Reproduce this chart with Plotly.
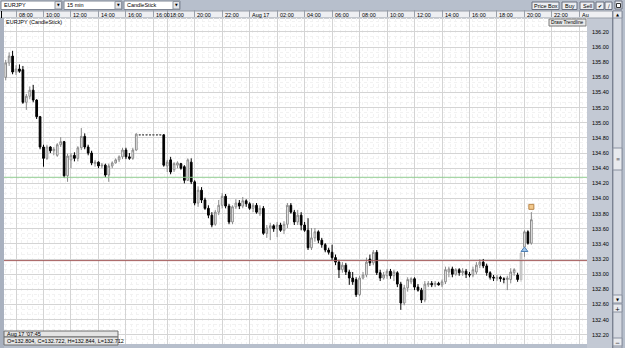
import plotly.graph_objects as go

# ---------------- data ----------------
symbol = "EURJPY"
interval = "15 min"
chart_type = "CandleStick"

bar_index = list(range(154))

open_prices = [
    135.60, 135.79, 135.88, 135.67, 135.71, 135.70, 135.27, 135.35, 135.43, 135.30,
    135.08, 134.68, 134.53, 134.68, 134.63, 134.57, 134.71, 134.75, 134.30, 134.51,
    134.57, 134.53, 134.67, 134.82, 134.68, 134.60, 134.46, 134.48, 134.43, 134.44,
    134.31, 134.43, 134.47, 134.51, 134.55, 134.64, 134.55, 134.53, 134.64, 134.84,
    134.84, 134.84, 134.84, 134.84, 134.84, 134.84, 134.84, 134.43, 134.51, 134.38,
    134.44, 134.46, 134.42, 134.24, 134.48, 134.22, 133.94, 134.11, 133.98, 133.87,
    133.78, 133.66, 133.82, 133.91, 134.03, 133.90, 133.69, 133.89, 133.94, 133.90,
    133.97, 133.93, 133.87, 133.91, 133.80, 133.87, 133.54, 133.61, 133.64, 133.60,
    133.65, 133.58, 133.66, 133.91, 133.82, 133.69, 133.78, 133.65, 133.58, 133.35,
    133.48, 133.56, 133.45, 133.39, 133.32, 133.29, 133.22, 133.16, 133.06, 133.12,
    133.03, 132.95, 132.93, 132.73, 132.95, 132.99, 133.20, 133.15, 133.29, 133.02,
    132.95, 132.98, 133.04, 132.98, 133.02, 132.87, 132.62, 132.82, 132.90, 132.94,
    132.83, 132.79, 132.66, 132.86, 132.88, 132.86, 132.88, 132.86, 132.90, 133.03,
    133.07, 133.00, 133.06, 133.02, 133.04, 133.00, 132.99, 133.03, 133.12, 133.16,
    133.11, 133.02, 132.96, 132.94, 132.96, 132.94, 132.93, 132.93, 133.02, 132.99,
    132.93, 133.36, 133.56, 133.41,
]
close_prices = [
    135.79, 135.88, 135.67, 135.71, 135.68, 135.27, 135.35, 135.43, 135.30, 135.08,
    134.68, 134.53, 134.68, 134.63, 134.65, 134.71, 134.75, 134.30, 134.56, 134.57,
    134.53, 134.67, 134.82, 134.68, 134.60, 134.47, 134.48, 134.43, 134.44, 134.31,
    134.43, 134.47, 134.51, 134.55, 134.64, 134.55, 134.53, 134.64, 134.85, 134.84,
    134.84, 134.84, 134.84, 134.84, 134.84, 134.84, 134.44, 134.48, 134.35, 134.46,
    134.47, 134.40, 134.24, 134.51, 134.22, 133.94, 134.11, 133.98, 133.87, 133.78,
    133.65, 133.82, 133.91, 134.03, 133.90, 133.69, 133.89, 133.94, 133.90, 133.97,
    133.93, 133.87, 133.91, 133.82, 133.87, 133.54, 133.61, 133.64, 133.60, 133.65,
    133.58, 133.66, 133.91, 133.82, 133.69, 133.78, 133.65, 133.58, 133.35, 133.48,
    133.56, 133.45, 133.39, 133.32, 133.29, 133.22, 133.16, 133.06, 133.12, 133.03,
    132.95, 132.90, 132.73, 132.95, 132.99, 133.16, 133.15, 133.29, 133.02, 132.95,
    132.99, 133.04, 132.98, 133.03, 132.87, 132.62, 132.82, 132.93, 132.94, 132.83,
    132.79, 132.66, 132.87, 132.88, 132.86, 132.88, 132.86, 132.90, 133.06, 133.07,
    133.00, 133.06, 133.02, 133.04, 133.00, 132.99, 133.06, 133.12, 133.16, 133.11,
    133.02, 132.96, 132.95, 132.96, 132.94, 132.93, 132.95, 133.03, 133.06, 132.93,
    133.28, 133.56, 133.41, 133.72,
]
high_prices = [
    135.83, 135.93, 135.95, 135.76, 135.77, 135.75, 135.38, 135.48, 135.50, 135.31,
    135.09, 134.71, 134.71, 134.69, 134.68, 134.73, 134.81, 134.76, 134.59, 134.60,
    134.61, 134.69, 134.93, 134.86, 134.71, 134.63, 134.51, 134.49, 134.47, 134.46,
    134.46, 134.49, 134.53, 134.57, 134.67, 134.67, 134.60, 134.67, 134.86, 134.84,
    134.84, 134.84, 134.84, 134.84, 134.84, 134.84, 134.85, 134.51, 134.55, 134.48,
    134.49, 134.47, 134.44, 134.53, 134.53, 134.24, 134.16, 134.15, 134.01, 133.91,
    133.82, 133.85, 133.98, 134.07, 134.06, 133.93, 133.91, 133.99, 133.98, 134.02,
    133.99, 133.95, 133.94, 133.94, 133.91, 133.90, 133.65, 133.68, 133.66, 133.69,
    133.68, 133.70, 133.94, 133.94, 133.85, 133.85, 133.82, 133.69, 133.74, 133.61,
    133.61, 133.58, 133.48, 133.41, 133.35, 133.39, 133.26, 133.19, 133.16, 133.15,
    133.06, 133.03, 132.96, 132.98, 133.03, 133.22, 133.26, 133.32, 133.32, 133.06,
    133.03, 133.07, 133.07, 133.06, 133.04, 132.90, 132.86, 132.96, 132.96, 132.96,
    132.87, 132.82, 132.91, 132.91, 132.91, 132.91, 132.90, 132.93, 133.10, 133.10,
    133.10, 133.08, 133.08, 133.08, 133.07, 133.03, 133.10, 133.16, 133.20, 133.20,
    133.14, 133.04, 132.99, 132.99, 132.98, 132.96, 132.98, 133.08, 133.08, 133.02,
    133.29, 133.58, 133.58, 133.82,
]
low_prices = [
    135.56, 135.75, 135.64, 135.63, 135.66, 135.25, 135.17, 135.31, 135.27, 135.05,
    134.65, 134.42, 134.51, 134.60, 134.57, 134.55, 134.68, 134.27, 134.22, 134.40,
    134.49, 134.49, 134.64, 134.65, 134.57, 134.44, 134.42, 134.40, 134.40, 134.28,
    134.22, 134.40, 134.46, 134.48, 134.52, 134.52, 134.51, 134.51, 134.63, 134.84,
    134.84, 134.84, 134.84, 134.84, 134.84, 134.84, 134.42, 134.35, 134.32, 134.35,
    134.40, 134.38, 134.20, 134.23, 134.19, 133.91, 133.89, 133.94, 133.85, 133.74,
    133.62, 133.64, 133.78, 133.87, 133.87, 133.66, 133.66, 133.86, 133.86, 133.87,
    133.89, 133.85, 133.82, 133.80, 133.77, 133.52, 133.48, 133.45, 133.56, 133.49,
    133.56, 133.53, 133.61, 133.80, 133.65, 133.65, 133.58, 133.56, 133.32, 133.32,
    133.43, 133.41, 133.35, 133.29, 133.26, 133.19, 133.12, 132.95, 133.02, 132.99,
    132.86, 132.86, 132.70, 132.71, 132.93, 132.96, 133.11, 133.12, 132.99, 132.91,
    132.93, 132.94, 132.94, 132.91, 132.83, 132.53, 132.59, 132.77, 132.87, 132.79,
    132.77, 132.62, 132.63, 132.83, 132.83, 132.83, 132.85, 132.83, 132.87, 132.96,
    132.96, 132.98, 132.98, 132.98, 132.95, 132.96, 132.96, 133.00, 133.08, 133.08,
    132.98, 132.93, 132.91, 132.91, 132.90, 132.88, 132.79, 132.88, 132.98, 132.90,
    132.90, 133.23, 133.39, 133.39,
]

highlight_bar = 150          # the selected (light grey) bar
level_green = 134.28         # horizontal price line (green)
level_red = 133.18           # horizontal price line (brown)
buy_mark_x = [151]
buy_mark_y = [133.32]
sell_mark_x = [153]
sell_mark_y = [133.89]

time_tick_pos = [3, 11, 19, 27, 35, 43, 47, 55, 63, 71, 79, 87, 95, 103, 111,
                 119, 127, 135, 143, 151, 159, 167]
time_tick_text = ["08:00", "10:00", "12:00", "14:00", "16:00", "16:00", "18:00",
                  "20:00", "22:00", "Aug 17", "02:00", "04:00", "06:00", "08:00",
                  "10:00", "12:00", "14:00", "16:00", "18:00", "20:00", "22:00", "Au"]
price_ticks = [132.20, 132.40, 132.60, 132.80, 133.00, 133.20, 133.40, 133.60,
               133.80, 134.00, 134.20, 134.40, 134.60, 134.80, 135.00, 135.20,
               135.40, 135.60, 135.80, 136.00, 136.20]
price_range = [132.079, 136.383]
bar_range = [-0.5, 169.2]

info_time = "Aug 17 '07:45"
info_ohlc = "O=132.804, C=132.722, H=132.844, L=132.712"

# ---------------- figure ----------------
W, H = 625, 348
PL, PR, PT, PB = 4, 587, 18, 344
FONT = "Liberation Sans, Arial, sans-serif"
FS = 5.5


def fx(x):
    return (x - PL) / (PR - PL)


def fy(y):
    return (PB - y) / (PB - PT)


shapes = []
annots = []


def rect(x0, y0, x1, y1, fill, line=None, lw=1, layer="below"):
    shapes.append(dict(type="rect", xref="paper", yref="paper",
                       x0=fx(x0), x1=fx(x1), y0=fy(y1), y1=fy(y0),
                       fillcolor=fill, layer=layer,
                       line=dict(color=line if line else fill, width=lw if line else 0)))


def vline(x, y0, y1, color, layer="below"):
    shapes.append(dict(type="line", xref="paper", yref="paper",
                       x0=fx(x), x1=fx(x), y0=fy(y1), y1=fy(y0),
                       line=dict(color=color, width=1), layer=layer))


def hline(x0, x1, y, color, layer="below"):
    shapes.append(dict(type="line", xref="paper", yref="paper",
                       x0=fx(x0), x1=fx(x1), y0=fy(y), y1=fy(y),
                       line=dict(color=color, width=1), layer=layer))


def text(x, y, s, size=FS, anchor="left", color="#000000", family=FONT):
    annots.append(dict(xref="paper", yref="paper", x=fx(x), y=fy(y), text=s,
                       showarrow=False, xanchor=anchor, yanchor="middle",
                       borderpad=0, font=dict(size=size, color=color, family=family)))


# window chrome
rect(0, 18, 4, 348, "#a9b1bf")                      # left strip
rect(587, 18, 612, 348, "#c3c9d4")                  # price panel
rect(0, 11, 612, 18, "#eeeff2")                     # time header band
hline(0, 612, 18, "#9aa0aa")
hline(0, 612, 11, "#9aa0aa")
vline(1.5, 11, 18, "#000000")
vline(612.5, 11, 348, "#6d7482")
# scrollbar
rect(613, 11, 622, 348, "#d5d9e1", "#8a91a0")
rect(613, 11, 622, 18, "#e8eaee", "#8a91a0")
text(617.5, 14.5, "▲", size=4, anchor="center", family="DejaVu Sans")
rect(613, 148, 622, 170, "#e8eaee", "#8a91a0")
text(617.5, 159, "≡", size=5, anchor="center", family="DejaVu Sans", color="#555555")
rect(613, 295, 622, 303, "#e8eaee", "#8a91a0")
text(617.5, 299, "▼", size=4, anchor="center", family="DejaVu Sans")
rect(613, 304, 622, 312, "#e8eaee", "#8a91a0")
text(617.5, 308, "+", size=6, anchor="center", family="DejaVu Sans")
rect(613, 338, 622, 346, "#e8eaee", "#8a91a0")
text(617.5, 342, "−", size=6, anchor="center", family="DejaVu Sans")

# toolbar drop-downs
for x0, x1, label in [(1, 62, symbol), (64, 122, interval), (124, 180, chart_type)]:
    rect(x0, 1, x1, 9.5, "#ffffff", "#7f8694")
    rect(x1 - 7, 1.5, x1 - 0.5, 9, "#e3e5e9", "#8f95a0")
    text(x1 - 3.75, 5.3, "▼", size=3.5, anchor="center", family="DejaVu Sans")
    text(x0 + 2, 5.3, label)

# toolbar buttons
for x0, x1, label in [(532, 559, "Price Box"), (562, 577, "Buy"), (580, 594, "Sell"),
                      (596, 604, "✔"), (605, 612, "/")]:
    rect(x0, 2, x1, 9.5, "#eceef2", "#6a7080")
    text((x0 + x1) / 2, 5.8, label, anchor="center", size=FS if len(label) > 1 else 5,
         family=FONT if len(label) > 1 else "DejaVu Sans")
rect(615, 1, 622, 9, "#eceef2", "#6a7080")
rect(616.5, 3.5, 620.5, 7.5, "#ffffff", "#333333")

# in-plot labels and boxes
text(5, 21.8, f"{symbol} ({chart_type})")
rect(549, 19, 586, 26, "#e9e9e9", "#7a7a7a", layer="above")
text(567.5, 22.6, "Draw Trendline", anchor="center", size=4.8)
rect(4, 331, 118, 337, "#e4e4e4", "#6f6f6f", layer="above")
rect(4, 337, 118, 345, "#e4e4e4", "#6f6f6f", layer="above")
text(6, 334.2, info_time)
text(6, 341.2, info_ohlc)

# horizontal price levels
for lvl, col in [(level_green, "#8fcb8f"), (level_red, "#a45c5c")]:
    shapes.append(dict(type="line", xref="paper", yref="y", x0=0, x1=1, y0=lvl, y1=lvl,
                       line=dict(color=col, width=1), layer="above"))

# time labels in the header (left-aligned right of each separator)
for pos, lab in zip(time_tick_pos, time_tick_text):
    annots.append(dict(xref="x", yref="paper", x=pos, y=fy(14.6), text=lab,
                       showarrow=False, xanchor="left", yanchor="middle", xshift=1.5,
                       borderpad=0, font=dict(size=FS, color="#000000", family=FONT)))

flat_idx = [i for i in bar_index
            if high_prices[i] == low_prices[i]]
main_idx = [i for i in bar_index if i != highlight_bar and i not in flat_idx]


def candles(idx, inc_line, inc_fill, dec_line, dec_fill):
    return go.Candlestick(
        x=[bar_index[i] for i in idx],
        open=[open_prices[i] for i in idx],
        high=[high_prices[i] for i in idx],
        low=[low_prices[i] for i in idx],
        close=[close_prices[i] for i in idx],
        increasing=dict(line=dict(color=inc_line, width=1), fillcolor=inc_fill),
        decreasing=dict(line=dict(color=dec_line, width=1), fillcolor=dec_fill),
        whiskerwidth=0, showlegend=False, hoverinfo="skip",
    )


fig = go.Figure()
fig.add_trace(candles(main_idx, "#8a8a8a", "#ffffff", "#000000", "#000000"))
fig.add_trace(candles(flat_idx, "#6a6a6a", "#6a6a6a", "#6a6a6a", "#6a6a6a"))
fig.add_trace(candles([highlight_bar], "#bdbdbd", "#d6d6d6", "#bdbdbd", "#d6d6d6"))
fig.add_trace(go.Scatter(
    x=buy_mark_x, y=buy_mark_y, mode="markers", showlegend=False, hoverinfo="skip",
    marker=dict(symbol="triangle-up", size=6, color="#9ec3e8",
                line=dict(color="#4f80b4", width=1)),
))
fig.add_trace(go.Scatter(
    x=sell_mark_x, y=sell_mark_y, mode="markers", showlegend=False, hoverinfo="skip",
    marker=dict(symbol="square", size=5, color="#f3c98c",
                line=dict(color="#b8864a", width=1)),
))

fig.update_layout(
    width=W, height=H, autosize=False,
    margin=dict(l=PL, r=W - PR, t=PT, b=H - PB, pad=0),
    paper_bgcolor="#b7bfcc", plot_bgcolor="#ffffff",
    font=dict(family=FONT, size=FS, color="#000000"),
    shapes=shapes, annotations=annots, hovermode=False,
    xaxis=dict(
        range=bar_range, side="top", tickmode="array", tickvals=time_tick_pos,
        showticklabels=False, ticks="outside", ticklen=7, tickcolor="#9aa0aa",
        tickwidth=1, showgrid=True, gridcolor="#d4d4d4", gridwidth=1,
        zeroline=False, showline=False, fixedrange=True,
        rangeslider=dict(visible=False),
        minor=dict(showgrid=True, tick0=3, dtick=1.6, gridcolor="#f2f2f2",
                   griddash="dot", gridwidth=1, ticks=""),
    ),
    yaxis=dict(
        range=price_range, side="right", tickmode="array", tickvals=price_ticks,
        ticktext=[f"{v:.2f}" for v in price_ticks], ticks="",
        tickfont=dict(size=FS, color="#000000", family=FONT), ticklabelstandoff=4,
        showgrid=True, gridcolor="#d4d4d4", gridwidth=1, zeroline=False,
        showline=False, fixedrange=True,
        minor=dict(showgrid=True, tick0=132.2, dtick=0.2 / 3, gridcolor="#f2f2f2",
                   griddash="dot", gridwidth=1, ticks=""),
    ),
)

fig.write_html("out.html")
